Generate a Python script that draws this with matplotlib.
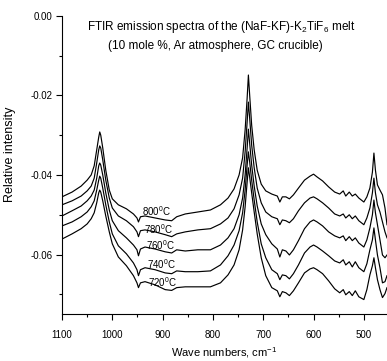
import matplotlib
matplotlib.use("Agg")
import matplotlib.pyplot as plt
from matplotlib import font_manager
from matplotlib.ticker import MultipleLocator, FormatStrFormatter

# police : Arial étroite si disponible
try:
    font_manager.findfont("Liberation Sans Narrow", fallback_to_default=False)
    fam = "Liberation Sans Narrow"
except Exception:
    fam = "Liberation Sans"
plt.rcParams["font.family"] = [fam, "DejaVu Sans"]
plt.rcParams["axes.unicode_minus"] = False
plt.rcParams["mathtext.fontset"] = "custom"
plt.rcParams["mathtext.rm"] = fam

# Nombres d'onde (cm-1), communs aux cinq spectres
wn = [1100, 1080, 1062, 1050, 1042, 1036, 1031, 1027, 1025, 1023, 1019, 1013,
      1006, 1000, 988, 972, 958, 951, 948, 944, 935, 915, 895, 882, 872, 855,
      830, 805, 785, 770, 758, 748, 741, 736, 732, 729.5, 727, 723, 718, 712,
      704, 695, 683, 672, 667, 662, 655, 648, 640, 630, 618, 607, 600, 593,
      582, 570, 558, 548, 541, 536, 529, 523, 517, 510, 500, 494, 488, 483,
      480, 477, 473, 468, 463, 458, 454]

t800 = [-0.0455, -0.0443, -0.0428, -0.0413, -0.0400, -0.0377, -0.0337, -0.0305,
        -0.0292, -0.0300, -0.0332, -0.0388, -0.0438, -0.0460, -0.0475, -0.0485,
        -0.0498, -0.0508, -0.0518, -0.0505, -0.0503, -0.0508, -0.0513, -0.0515,
        -0.0505, -0.0498, -0.0493, -0.0488, -0.0475, -0.0458, -0.0435, -0.0400,
        -0.0357, -0.0287, -0.0207, -0.0149, -0.0199, -0.0275, -0.0337, -0.0388,
        -0.0423, -0.0440, -0.0448, -0.0453, -0.0468, -0.0455, -0.0455, -0.0460,
        -0.0450, -0.0433, -0.0413, -0.0403, -0.0398, -0.0405, -0.0415, -0.0430,
        -0.0443, -0.0448, -0.0440, -0.0453, -0.0443, -0.0453, -0.0448, -0.0458,
        -0.0468, -0.0455, -0.0433, -0.0393, -0.0345, -0.0388, -0.0425, -0.0438,
        -0.0450, -0.0483, -0.0525]

t780 = [-0.0475, -0.0465, -0.0453, -0.0440, -0.0428, -0.0408, -0.0370, -0.0337,
        -0.0327, -0.0332, -0.0362, -0.0413, -0.0458, -0.0483, -0.0503, -0.0515,
        -0.0530, -0.0543, -0.0555, -0.0540, -0.0538, -0.0543, -0.0550, -0.0555,
        -0.0548, -0.0543, -0.0538, -0.0535, -0.0523, -0.0508, -0.0485, -0.0450,
        -0.0408, -0.0342, -0.0267, -0.0217, -0.0257, -0.0325, -0.0382, -0.0433,
        -0.0470, -0.0493, -0.0505, -0.0510, -0.0525, -0.0513, -0.0515, -0.0520,
        -0.0510, -0.0490, -0.0470, -0.0458, -0.0455, -0.0460, -0.0470, -0.0483,
        -0.0498, -0.0503, -0.0498, -0.0508, -0.0500, -0.0510, -0.0503, -0.0515,
        -0.0525, -0.0508, -0.0483, -0.0445, -0.0408, -0.0445, -0.0475, -0.0493,
        -0.0518, -0.0543, -0.0558]

t760 = [-0.0503, -0.0490, -0.0478, -0.0465, -0.0453, -0.0438, -0.0408, -0.0377,
        -0.0370, -0.0375, -0.0400, -0.0445, -0.0488, -0.0515, -0.0540, -0.0558,
        -0.0576, -0.0588, -0.0603, -0.0586, -0.0581, -0.0586, -0.0593, -0.0596,
        -0.0588, -0.0591, -0.0588, -0.0588, -0.0576, -0.0558, -0.0535, -0.0500,
        -0.0458, -0.0400, -0.0332, -0.0285, -0.0320, -0.0375, -0.0428, -0.0478,
        -0.0523, -0.0550, -0.0573, -0.0586, -0.0606, -0.0588, -0.0591, -0.0601,
        -0.0588, -0.0565, -0.0535, -0.0518, -0.0513, -0.0518, -0.0528, -0.0543,
        -0.0553, -0.0558, -0.0553, -0.0565, -0.0555, -0.0565, -0.0558, -0.0571,
        -0.0581, -0.0563, -0.0533, -0.0500, -0.0463, -0.0495, -0.0525, -0.0563,
        -0.0601, -0.0608, -0.0601]

t740 = [-0.0528, -0.0518, -0.0505, -0.0493, -0.0480, -0.0465, -0.0438, -0.0413,
        -0.0403, -0.0408, -0.0433, -0.0475, -0.0518, -0.0548, -0.0578, -0.0598,
        -0.0621, -0.0638, -0.0653, -0.0638, -0.0633, -0.0638, -0.0646, -0.0648,
        -0.0641, -0.0643, -0.0643, -0.0641, -0.0626, -0.0603, -0.0576, -0.0540,
        -0.0495, -0.0438, -0.0375, -0.0342, -0.0367, -0.0413, -0.0463, -0.0518,
        -0.0573, -0.0608, -0.0638, -0.0648, -0.0663, -0.0651, -0.0653, -0.0661,
        -0.0648, -0.0626, -0.0596, -0.0581, -0.0576, -0.0581, -0.0591, -0.0603,
        -0.0616, -0.0621, -0.0613, -0.0626, -0.0618, -0.0631, -0.0618, -0.0633,
        -0.0643, -0.0623, -0.0588, -0.0563, -0.0533, -0.0563, -0.0601, -0.0633,
        -0.0671, -0.0668, -0.0653]

t720 = [-0.0561, -0.0548, -0.0535, -0.0523, -0.0510, -0.0495, -0.0470, -0.0445,
        -0.0438, -0.0443, -0.0465, -0.0503, -0.0543, -0.0573, -0.0606, -0.0628,
        -0.0653, -0.0671, -0.0683, -0.0671, -0.0668, -0.0676, -0.0688, -0.0690,
        -0.0683, -0.0681, -0.0681, -0.0681, -0.0671, -0.0651, -0.0626, -0.0588,
        -0.0538, -0.0480, -0.0418, -0.0382, -0.0405, -0.0445, -0.0493, -0.0548,
        -0.0608, -0.0653, -0.0683, -0.0691, -0.0706, -0.0693, -0.0696, -0.0703,
        -0.0691, -0.0671, -0.0646, -0.0636, -0.0633, -0.0638, -0.0648, -0.0666,
        -0.0686, -0.0696, -0.0688, -0.0701, -0.0693, -0.0703, -0.0691, -0.0706,
        -0.0713, -0.0688, -0.0651, -0.0628, -0.0608, -0.0633, -0.0663, -0.0688,
        -0.0708, -0.0698, -0.0683]

temps = ["800", "780", "760", "740", "720"]
spectra = [t800, t780, t760, t740, t720]
# position des étiquettes (nombre d'onde, intensité)
lab_x = [912, 908, 905, 903, 901]
lab_y = [-0.0490, -0.0535, -0.0576, -0.0625, -0.0670]

fig = plt.figure(figsize=(3.87, 3.61), dpi=100)
ax = fig.add_axes([62 / 387, 1 - 314.3 / 361, 1 - 62 / 387, 298.6 / 361])

for s in spectra:
    ax.plot(wn, s, color="black", linewidth=0.85)

for t, x, y in zip(temps, lab_x, lab_y):
    ax.text(x, y, t + r"$^{0}$C", fontsize=7, ha="center", va="center")

ax.set_xlim(1100, 454)
ax.set_ylim(-0.075, 0.0)

ax.spines["top"].set_visible(False)
ax.spines["right"].set_visible(False)
ax.xaxis.set_major_locator(MultipleLocator(100))
ax.xaxis.set_minor_locator(MultipleLocator(50))
ax.yaxis.set_major_locator(MultipleLocator(0.02))
ax.yaxis.set_minor_locator(MultipleLocator(0.01))
ax.yaxis.set_major_formatter(FormatStrFormatter("%.2f"))
ax.tick_params(which="major", direction="out", length=4, width=0.8,
               labelsize=7, pad=3)
ax.tick_params(which="minor", direction="out", length=2.5, width=0.8)
ax.tick_params(axis="x", which="major", pad=7)

ax.set_xlabel("Wave numbers, cm$^{-1}$", fontsize=8, labelpad=4)
ax.set_ylabel("Relative intensity", fontsize=9)
ax.yaxis.set_label_coords(-0.14, 0.537)

fig.text(221 / 387, 1 - 27 / 361,
         "FTIR emission spectra of the (NaF-KF)-K$_2$TiF$_6$ melt",
         fontsize=8.5, ha="center", va="center")
fig.text(215 / 387, 1 - 46 / 361,
         "(10 mole %, Ar atmosphere, GC crucible)",
         fontsize=8.5, ha="center", va="center")

fig.savefig("out.png", dpi=100)
